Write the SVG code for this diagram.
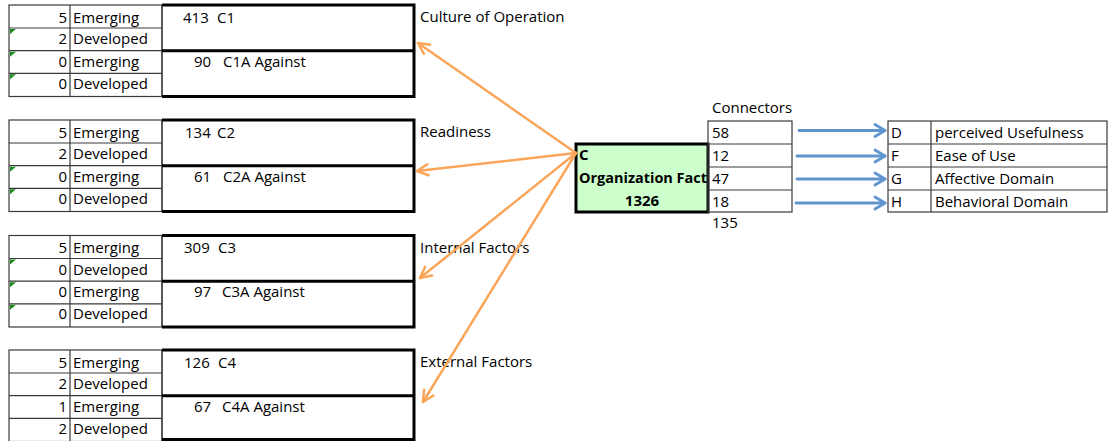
<svg xmlns="http://www.w3.org/2000/svg" width="1108" height="441" viewBox="0 0 1108 441">
<style>
text{font-family:"Open Sans","Liberation Sans",Arial,sans-serif;font-size:15px;fill:#000}
.b{font-weight:bold}
.e{text-anchor:end}
.thin{fill:none;stroke:#3a3a3a;stroke-width:1.2}
.thick{fill:none;stroke:#000;stroke-width:3}
.tri{fill:#1e8c1e}
.org{fill:none;stroke:#f9a65a;stroke-width:2.5;stroke-linecap:round}
.blu{fill:none;stroke:#5f96d0;stroke-width:2.8;stroke-linecap:round}
</style>
<defs>
<marker id="ao" viewBox="-13 -8 15 16" refX="0" refY="0" markerWidth="15" markerHeight="16" markerUnits="userSpaceOnUse" orient="auto">
<path d="M-11,-5.5 L0,0 L-11,5.5" fill="none" stroke="#f9a65a" stroke-width="2.5" stroke-linecap="round" stroke-linejoin="round"/>
</marker>
<marker id="ab" viewBox="-13 -8 15 16" refX="0" refY="0" markerWidth="15" markerHeight="16" markerUnits="userSpaceOnUse" orient="auto">
<path d="M-10,-6 L0,0 L-10,6" fill="none" stroke="#5f96d0" stroke-width="2.8" stroke-linecap="round" stroke-linejoin="round"/>
</marker>
</defs>
<rect width="1108" height="441" fill="#fff"/>

<g id="block-c1" transform="translate(0,5)">
<rect class="thin" x="9" y="0" width="153" height="91.5"/>
<path class="thin" d="M70,0V91.5M9,23H162M9,45.7H162M9,68.3H162"/>
<path class="thin" d="M162,0V91.5" stroke="#000"/>
<path class="thick" d="M162,0H414V91.5H162M162,45.7H414"/>
<path class="tri" d="M10,24L16,24L10,29Z M10,46.7L16,46.7L10,51.7Z M10,69.3L16,69.3L10,74.3Z"/>
<text class="e" x="67" y="17.5">5</text><text x="73" y="17.5">Emerging</text>
<text class="e" x="67" y="39">2</text><text x="73" y="39">Developed</text>
<text class="e" x="67" y="61.5">0</text><text x="73" y="61.5">Emerging</text>
<text class="e" x="67" y="83.5">0</text><text x="73" y="83.5">Developed</text>
<text x="183" y="17.5">413</text><text x="217" y="17.5">C1</text>
<text x="194" y="61.5">90</text><text x="223" y="61.5">C1A Against</text>
<text x="420" y="17">Culture of Operation</text>
</g>

<g id="block-c2" transform="translate(0,120)">
<rect class="thin" x="9" y="0" width="153" height="91.5"/>
<path class="thin" d="M70,0V91.5M9,23H162M9,45.7H162M9,68.3H162"/>
<path class="thin" d="M162,0V91.5" stroke="#000"/>
<path class="thick" d="M162,0H414V91.5H162M162,45.7H414"/>
<path class="tri" d="M10,46.7L16,46.7L10,51.7Z M10,69.3L16,69.3L10,74.3Z"/>
<text class="e" x="67" y="17.5">5</text><text x="73" y="17.5">Emerging</text>
<text class="e" x="67" y="39">2</text><text x="73" y="39">Developed</text>
<text class="e" x="67" y="61.5">0</text><text x="73" y="61.5">Emerging</text>
<text class="e" x="67" y="83.5">0</text><text x="73" y="83.5">Developed</text>
<text x="185" y="17.5">134</text><text x="217" y="17.5">C2</text>
<text x="194" y="61.5">61</text><text x="223" y="61.5">C2A Against</text>
<text x="420" y="17">Readiness</text>
</g>

<g id="block-c3" transform="translate(0,235.5)">
<rect class="thin" x="9" y="0" width="153" height="91.5"/>
<path class="thin" d="M70,0V91.5M9,23H162M9,45.7H162M9,68.3H162"/>
<path class="thin" d="M162,0V91.5" stroke="#000"/>
<path class="thick" d="M162,0H414V91.5H162M162,45.7H414"/>
<path class="tri" d="M10,24L16,24L10,29Z M10,46.7L16,46.7L10,51.7Z M10,69.3L16,69.3L10,74.3Z"/>
<text class="e" x="67" y="17.5">5</text><text x="73" y="17.5">Emerging</text>
<text class="e" x="67" y="39">0</text><text x="73" y="39">Developed</text>
<text class="e" x="67" y="61.5">0</text><text x="73" y="61.5">Emerging</text>
<text class="e" x="67" y="83.5">0</text><text x="73" y="83.5">Developed</text>
<text x="184" y="17.5">309</text><text x="218" y="17.5">C3</text>
<text x="194" y="61.5">97</text><text x="222" y="61.5">C3A Against</text>
<text x="420" y="17">Internal Factors</text>
</g>

<g id="block-c4" transform="translate(0,350)">
<rect class="thin" x="9" y="0" width="153" height="91.5"/>
<path class="thin" d="M70,0V91.5M9,23H162M9,45.7H162M9,68.3H162"/>
<path class="thin" d="M162,0V91.5" stroke="#000"/>
<path class="thick" d="M162,0H414V89.5H162M162,45.7H414"/>
<text class="e" x="67" y="17.5">5</text><text x="73" y="17.5">Emerging</text>
<text class="e" x="67" y="39">2</text><text x="73" y="39">Developed</text>
<text class="e" x="67" y="61.5">1</text><text x="73" y="61.5">Emerging</text>
<text class="e" x="67" y="83.5">2</text><text x="73" y="83.5">Developed</text>
<text x="184" y="17.5">126</text><text x="218" y="17.5">C4</text>
<text x="194" y="61.5">67</text><text x="222" y="61.5">C4A Against</text>
<text x="420" y="17">External Factors</text>
</g>

<g id="node-c">
<rect x="576" y="144" width="132" height="68" fill="#ccffcc" stroke="#000" stroke-width="3"/>
<text class="b" x="579" y="160">C</text>
<text class="b" x="579" y="183" textLength="128" lengthAdjust="spacingAndGlyphs">Organization Fact</text>
<text class="b" x="642" y="206" text-anchor="middle">1326</text>
</g>

<g id="connectors-table">
<text x="712" y="113">Connectors</text>
<rect class="thin" x="708" y="121" width="84" height="91" stroke="#000"/>
<path class="thin" d="M708,144H792M708,167H792M708,190H792" stroke="#000"/>
<text x="712" y="138">58</text>
<text x="712" y="161">12</text>
<text x="712" y="184">47</text>
<text x="712" y="207">18</text>
<text x="712" y="228">135</text>
</g>

<g id="domains-table">
<rect class="thin" x="888" y="121" width="219" height="91" stroke="#000"/>
<path class="thin" d="M931,121V212M888,144H1107M888,167H1107M888,190H1107" stroke="#000"/>
<text x="891" y="138">D</text><text x="935" y="138">perceived Usefulness</text>
<text x="891" y="161">F</text><text x="935" y="161">Ease of Use</text>
<text x="891" y="184">G</text><text x="935" y="184">Affective Domain</text>
<text x="891" y="207">H</text><text x="935" y="207">Behavioral Domain</text>
</g>

<g id="connectors">
<path class="org" marker-end="url(#ao)" d="M576,153L418,43"/>
<path class="org" marker-end="url(#ao)" d="M576,153L417,171"/>
<path class="org" marker-end="url(#ao)" d="M576,153L420,278"/>
<path class="org" marker-end="url(#ao)" d="M576,153L423,402"/>
<path class="blu" marker-end="url(#ab)" d="M799,130.5H885"/>
<path class="blu" marker-end="url(#ab)" d="M797,156H885"/>
<path class="blu" marker-end="url(#ab)" d="M797,179H885"/>
<path class="blu" marker-end="url(#ab)" d="M796,203H885"/>
</g>
</svg>
